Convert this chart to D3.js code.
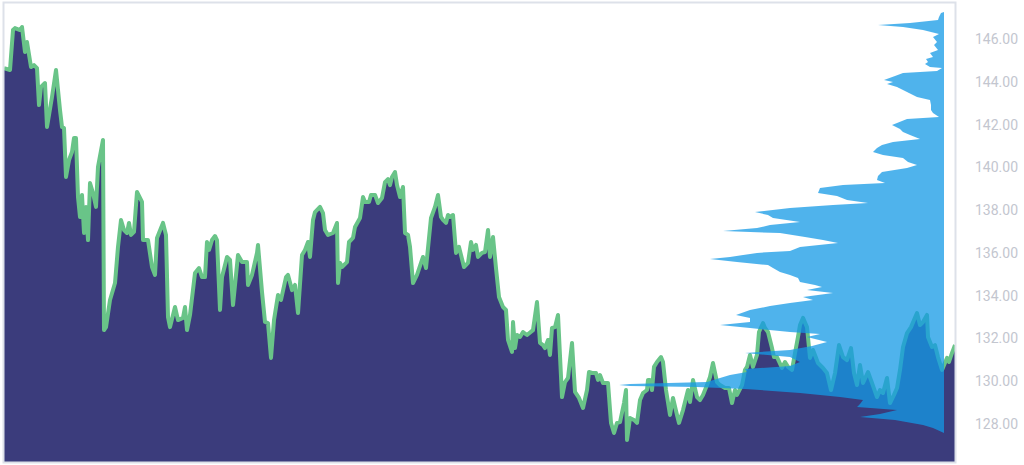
<!DOCTYPE html>
<html><head><meta charset="utf-8">
<script src="https://cdn.jsdelivr.net/npm/d3@7"></script>
<style>html,body{margin:0;padding:0;background:#fff}svg{display:block}</style>
</head><body>
<svg id="chart" width="1024" height="465"></svg>
<script>
// ---- data ----
const minutes = [0,30,45,55,80,90,105,115,135,150,165,175,185,205,215,240,260,280,290,300,310,325,340,350,360,370,380,390,400,410,420,430,445,460,470,495,500,510,530,555,570,585,600,615,625,635,650,665,690,695,720,740,755,765,795,810,820,830,855,870,895,905,915,930,955,975,990,1005,1015,1025,1040,1055,1065,1080,1090,1115,1130,1145,1170,1190,1215,1220,1240,1265,1270,1290,1305,1320,1335,1350,1370,1385,1410,1420,1440,1455,1470,1490,1505,1520,1530,1545,1555,1580,1595,1605,1620,1645,1665,1670,1680,1690,1715,1725,1745,1755,1780,1795,1805,1825,1835,1855,1870,1890,1905,1920,1930,1940,1955,1965,1980,1995,2005,2020,2030,2045,2065,2095,2110,2135,2155,2170,2185,2195,2210,2220,2230,2245,2260,2275,2300,2320,2335,2345,2360,2370,2390,2405,2420,2430,2445,2460,2475,2495,2510,2520,2540,2545,2555,2565,2580,2595,2615,2645,2665,2680,2695,2705,2720,2730,2740,2755,2770,2790,2805,2820,2840,2855,2875,2895,2915,2925,2945,2960,2970,2980,2995,3020,3035,3050,3065,3080,3100,3110,3115,3130,3150,3165,3180,3195,3215,3220,3230,3240,3250,3265,3285,3295,3310,3330,3345,3365,3375,3395,3420,3430,3445,3465,3480,3495,3515,3530,3545,3565,3580,3605,3625,3640,3655,3665,3690,3705,3715,3730,3745,3765,3775,3795,3805,3820,3840,3850,3865,3890,3905,3920,3940,3955,3970,3980,3995,4015,4030,4045,4070,4095,4115,4135,4155,4175,4195,4215,4235,4250,4265,4280,4295,4320,4340,4365,4380,4395,4415,4430,4450,4465,4480,4495,4515,4535,4550,4565,4580,4595,4615,4620,4640,4655,4670,4690,4715,4725,4740,4755];
const prices = [144.64,144.55,146.42,146.51,146.42,146.56,145.39,145.86,144.69,144.78,144.64,142.91,143.76,143.94,141.89,143.29,144.55,142.68,141.89,141.84,139.55,140.34,140.72,141.37,141.37,138.61,137.68,138.71,136.93,138.15,136.60,139.27,138.80,138.15,140.02,141.28,132.39,132.53,133.80,134.59,136.28,137.54,137.07,136.93,137.40,136.84,136.98,138.85,138.38,136.60,136.60,135.34,134.97,136.70,137.40,136.84,133.00,132.53,133.47,132.86,132.96,133.47,132.39,133.10,135.06,135.29,134.87,134.87,136.51,136.14,136.60,136.79,136.60,133.33,134.87,135.81,135.67,133.56,135.90,135.57,135.57,134.50,134.97,136.00,136.37,134.17,132.77,132.72,131.09,132.86,134.03,133.80,134.87,134.97,134.26,134.50,133.19,135.90,136.14,136.51,135.81,137.54,137.91,138.15,137.86,137.07,136.84,136.93,137.40,134.59,135.53,135.34,135.57,136.51,136.70,137.21,137.63,138.61,138.38,138.38,138.71,138.71,138.33,138.57,139.31,139.45,139.17,139.55,139.78,139.17,138.61,139.08,136.93,136.84,136.28,134.59,134.97,135.81,135.29,137.63,138.15,138.71,137.68,137.54,137.40,137.77,137.68,137.77,136.00,136.28,135.34,135.53,136.51,136.14,136.37,135.81,136.00,136.04,137.07,135.81,136.74,135.29,133.94,133.47,133.33,131.93,131.37,132.77,131.55,132.16,132.07,132.30,132.16,132.39,133.70,131.79,131.69,131.55,131.93,131.23,132.49,132.53,133.10,129.26,129.96,130.15,131.79,129.50,129.22,128.75,129.59,130.43,130.38,130.38,130.06,130.29,129.92,129.92,128.05,127.58,128.05,128.09,128.98,129.59,127.25,128.28,128.19,128.05,129.12,129.45,129.59,130.06,130.06,129.59,130.67,130.90,131.13,130.90,129.59,128.42,129.22,128.42,128.05,128.65,129.59,129.03,130.06,129.26,129.12,129.36,129.82,130.20,130.85,129.96,129.82,129.68,129.68,128.98,129.59,129.36,129.82,130.53,130.67,131.23,130.67,131.23,132.30,132.72,132.49,132.30,131.55,131.13,131.13,130.62,130.90,130.67,130.53,131.32,132.07,132.63,132.96,132.53,131.09,131.46,130.85,130.62,130.38,129.59,130.38,131.69,131.13,130.99,131.55,130.38,129.82,130.76,129.92,130.43,129.92,129.26,129.59,129.45,130.15,128.98,129.36,129.68,130.53,131.60,132.25,132.53,132.86,133.19,132.63,132.77,133.10,132.07,131.60,131.69,131.13,130.53,131.09,130.90,131.32,131.69];

// volume profile: price level -> traded volume
const profilePrices = [147.26,147.22,147.03,146.89,146.75,146.65,146.56,146.42,146.23,146.09,145.86,145.72,145.49,145.35,145.16,145.06,144.92,144.83,144.69,144.64,144.50,144.41,144.27,144.08,143.99,143.90,143.76,143.52,143.29,143.15,142.91,142.68,142.54,142.35,142.26,141.98,141.79,141.65,141.51,141.32,141.18,141.04,140.90,140.72,140.58,140.44,140.25,140.11,139.97,139.78,139.59,139.41,139.27,139.17,139.03,138.80,138.66,138.47,138.33,138.24,138.10,137.91,137.77,137.63,137.44,137.30,137.16,137.02,136.93,136.74,136.60,136.46,136.28,136.09,136.00,135.81,135.71,135.57,135.43,135.29,135.11,134.97,134.83,134.64,134.50,134.41,134.27,134.12,133.94,133.80,133.66,133.52,133.42,133.33,133.10,132.96,132.77,132.63,132.49,132.30,132.21,132.07,131.83,131.65,131.46,131.32,131.13,130.90,130.71,130.57,130.43,130.29,130.15,129.96,129.87,129.82,129.78,129.73,129.64,129.45,129.26,129.12,128.94,128.79,128.65,128.47,128.33,128.19,127.95,127.81,127.58];
const profileVolumes = [0,12,20,24,136,264,164,84,20,44,28,40,24,56,44,72,64,76,56,8,28,164,196,240,204,228,188,148,108,56,52,52,44,20,148,208,176,164,136,96,204,248,268,284,244,164,144,108,148,248,264,268,236,404,496,504,428,388,304,444,616,756,704,684,576,696,748,884,656,556,484,424,576,616,748,856,936,828,704,684,656,616,584,576,516,488,548,444,564,524,616,696,736,776,832,776,776,896,776,616,496,548,468,528,616,796,616,576,616,796,788,856,896,948,1256,1300,1256,988,796,576,416,324,336,348,188,256,336,196,84,44,0];

const yTicks = [128,130,132,134,136,138,140,142,144,146];

// ---- layout ----
const plotL = 4, plotR = 955, plotT = 3, plotB = 462;
const svg = d3.select('#chart');

const x = d3.scaleLinear().domain([0, d3.max(minutes)]).range([plotL, plotR]);
const y = d3.scaleLinear().domain([128, 146]).range([424, 39]);
const vx = d3.scaleLinear().domain([0, d3.max(profileVolumes)]).range([944, 619]);

const series = minutes.map((t, i) => ({t, p: prices[i]}));
const profile = profilePrices.map((p, i) => ({p, v: profileVolumes[i]}));

svg.append('defs').append('clipPath').attr('id', 'clip')
  .append('rect').attr('x', plotL).attr('y', plotT)
  .attr('width', plotR - plotL).attr('height', plotB - plotT);

const g = svg.append('g').attr('clip-path', 'url(#clip)');

g.append('path').datum(series)
  .attr('fill', '#3b3c7c')
  .attr('d', d3.area().x(d => x(d.t)).y0(plotB).y1(d => y(d.p)));

g.append('path').datum(series)
  .attr('fill', 'none')
  .attr('stroke', '#69c488')
  .attr('stroke-width', 4)
  .attr('stroke-linejoin', 'round')
  .attr('d', d3.line().x(d => x(d.t)).y(d => y(d.p)));

g.append('path').datum(profile)
  .attr('fill', 'rgb(20,153,230)')
  .attr('fill-opacity', 0.75)
  .attr('d', d3.area().y(d => y(d.p)).x0(vx(0)).x1(d => vx(d.v)));

// frame
svg.append('rect')
  .attr('x', plotL - 0.5).attr('y', plotT - 0.5)
  .attr('width', plotR - plotL + 1).attr('height', plotB - plotT + 1)
  .attr('fill', 'none').attr('stroke', '#dde1e9').attr('stroke-width', 2);

// axis
const axis = svg.append('g').attr('transform', `translate(${plotR},0)`)
  .call(d3.axisRight(y).tickValues(yTicks).tickFormat(d3.format('.2f')).tickSize(0).tickPadding(20));
axis.select('.domain').remove();
axis.selectAll('text')
  .attr('fill', '#c3c6cf')
  .style('font-family', 'Roboto, "Open Sans", sans-serif')
  .style('font-size', '14px');
</script>
</body></html>
